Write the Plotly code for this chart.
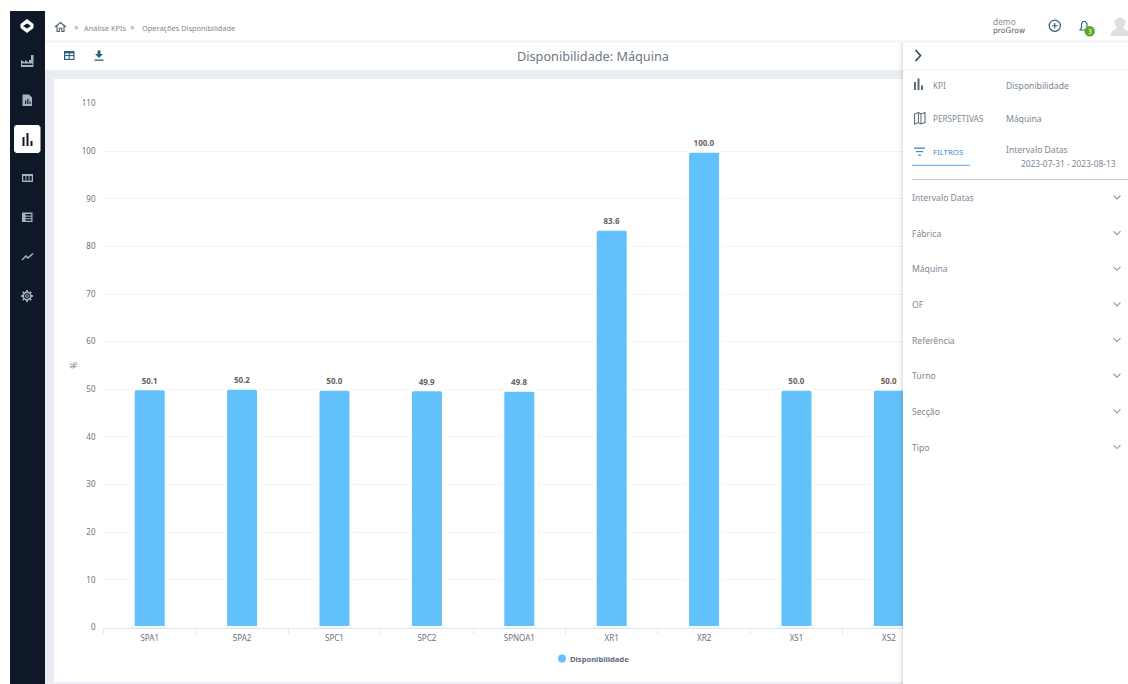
import re
import plotly.graph_objects as go

# ---- data ----
categories = ["SPA1", "SPA2", "SPC1", "SPC2", "SPNOA1", "XR1", "XR2", "XS1", "XS2"]
disponibilidade = [50.1, 50.2, 50.0, 49.9, 49.8, 83.6, 100.0, 50.0, 50.0]
y_ticks = [0, 10, 20, 30, 40, 50, 60, 70, 80, 90, 100, 110]
filter_names = ["Intervalo Datas", "Fábrica", "Máquina", "OF", "Referência", "Turno", "Secção", "Tipo"]
series_name = "Disponibilidade"
chart_title = "Disponibilidade: Máquina"

W, H = 1128, 684
FONT = "Noto Sans"
BAR = "#62c0fb"
NAVY = "#0f1826"
ICON = "#2f5d7c"
SIDE = "#a7b4c0"
TXT = "#7b8794"
BLUE = "#3a87d0"


def px(x):
    return x / W


def py(y):
    return 1 - y / H


shapes = []
annotations = []


def rect(x0, y0, x1, y1, fill, opacity=1.0):
    shapes.append(dict(type="rect", xref="paper", yref="paper", x0=px(x0), x1=px(x1),
                       y0=py(y0), y1=py(y1), fillcolor=fill, opacity=opacity,
                       line=dict(width=0), layer="above"))


def circle(cx, cy, r, fill=None, line=None, lw=1.0):
    shapes.append(dict(type="circle", xref="paper", yref="paper", x0=px(cx - r), x1=px(cx + r),
                       y0=py(cy - r), y1=py(cy + r), fillcolor=fill or "rgba(0,0,0,0)",
                       line=dict(width=lw if line else 0, color=line or "rgba(0,0,0,0)"),
                       layer="above"))


def path(d, fill=None, line=None, lw=1.0):
    """d is a path in screen pixels, converted to paper coordinates."""
    toks = re.findall(r"[MLZ]|-?\d+\.?\d*", d)
    out, i = [], 0
    while i < len(toks):
        if toks[i] in "MLZ":
            out.append(toks[i])
            i += 1
        else:
            out.append(f"{px(float(toks[i])):.6f},{py(float(toks[i + 1])):.6f}")
            i += 2
    shapes.append(dict(type="path", xref="paper", yref="paper", path=" ".join(out),
                       fillcolor=fill or "rgba(0,0,0,0)",
                       line=dict(width=lw if line else 0, color=line or "rgba(0,0,0,0)"),
                       layer="above"))


def text(x, y, s, size=9, color=TXT, anchor="left", bold=False, family=FONT):
    annotations.append(dict(x=px(x), y=py(y), xref="paper", yref="paper", text=f"<b>{s}</b>" if bold else s,
                            showarrow=False, xanchor=anchor, yanchor="middle", borderpad=0, borderwidth=0,
                            font=dict(family=family, size=size, color=color)))


# ---- page shell (drawn over the plot where it overlaps) ----
rect(45, 70, 903, 79, "#e9ecf1")
rect(45, 70, 54, 684, "#e9ecf1")
rect(45, 682, 903, 684, "#eceef3")
rect(45, 40.5, 1128, 42.5, "#f2f3f4")

# sidebar
rect(10, 11, 45, 684, NAVY)
path("M27 19 L33.5 24 L33.5 28 L27 33 L20.5 28 L20.5 24 Z", fill="#ffffff")
path("M27 23.5 L31 26 L27 28.5 L23 26 Z", fill=NAVY)
# factory
path("M21 67 L21 60 L25 62.5 L25 60 L29 62.5 L29 60 L31 60 L31 55 L33.5 55 L33.5 67 Z", fill=SIDE)
rect(22, 63.5, 32.5, 65, NAVY)
# report
path("M22.5 94.5 L29 94.5 L32 97.5 L32 106 L22.5 106 Z", fill=SIDE)
rect(25, 100.5, 26.2, 104, NAVY)
rect(27.2, 99, 28.4, 104, NAVY)
rect(29.4, 101.5, 30.6, 104, NAVY)
# active
path("M16 125 L38.5 125 L40.5 127 L40.5 151 L38.5 153 L16 153 L14 151 L14 127 Z", fill="#ffffff")
rect(22.5, 137, 24.5, 146, NAVY)
rect(26.5, 133, 28.5, 146, NAVY)
rect(30.5, 141, 32.5, 146, NAVY)
# columns
rect(22, 174, 33, 182, SIDE)
rect(23.3, 176, 25.4, 180.7, NAVY)
rect(26.4, 176, 28.6, 180.7, NAVY)
rect(29.6, 176, 31.7, 180.7, NAVY)
# list
rect(22, 212.5, 32.5, 222, SIDE)
rect(25.5, 214, 31.3, 215.6, NAVY)
rect(25.5, 216.7, 31.3, 218.2, NAVY)
rect(25.5, 219.2, 31.3, 220.8, NAVY)
# trend
path("M22 260 L26 256 L28 258 L33 253.5", line=SIDE, lw=1.5)
# gear
circle(27, 296, 3.8, line=SIDE, lw=1.6)
circle(27, 296, 1.5, line=SIDE, lw=1)
for a, b, c, d in [(27, 290, 27, 292), (27, 300, 27, 302), (21, 296, 23, 296), (31, 296, 33, 296),
                   (22.8, 291.8, 24.2, 293.2), (29.8, 298.8, 31.2, 300.2),
                   (22.8, 300.2, 24.2, 298.8), (29.8, 293.2, 31.2, 291.8)]:
    path(f"M{a} {b} L{c} {d}", line=SIDE, lw=1.8)

# breadcrumbs
path("M55 27 L60.5 22.5 L66 27 M57 26 L57 31.5 L59.3 31.5 L59.3 28.2 L61.8 28.2 L61.8 31.5 L64 31.5 L64 26",
     line="#4d5c69", lw=1.1)
text(73.5, 26.5, "»", 8.5, "#8d969e")
text(84, 27.5, "Análise KPIs", 7.4, "#83888d")
text(130, 26.5, "»", 8.5, "#8d969e")
text(142, 27.5, "Operações Disponibilidade", 7.4, "#83888d")

# toolbar
text(593, 56, chart_title, 12.7, "#6b7885", anchor="center")
rect(64, 51, 74.5, 60, ICON)
rect(65.2, 53.4, 68.7, 55, "#ffffff")
rect(69.8, 53.4, 73.3, 55, "#ffffff")
rect(65.2, 56.1, 68.7, 58.9, "#ffffff")
rect(69.8, 56.1, 73.3, 58.9, "#ffffff")
path("M97.5 50.5 L100.5 50.5 L100.5 54 L103 54 L99 58 L95 54 L97.5 54 Z", fill=ICON)
rect(94.5, 59.5, 103.5, 60.8, ICON)

# panel with soft shadow
for i, op in enumerate([0.012, 0.02, 0.03, 0.045, 0.06]):
    rect(898 + i, 43, 903, 684, "#55606a", op)
rect(903, 43, 1128, 684, "#ffffff")
rect(903, 69.5, 1128, 70.5, "#eef0f2")

# top-right
text(993, 21.5, "demo", 8.4, "#8d8d8d")
text(993, 30.5, "proGrow", 7.6, "#5d6468", family="DejaVu Sans")
circle(1054.8, 25.8, 5.6, line=ICON, lw=1.2)
path("M1052 25.8 L1057.6 25.8 M1054.8 23 L1054.8 28.6", line=ICON, lw=1.1)
path("M1080 30 L1081.5 27.5 L1081.5 24 L1083 21.5 L1085.5 21.5 L1087 24 L1087 27.5 L1088.5 30 Z",
     line=ICON, lw=1.1)
circle(1089.7, 31.3, 5.2, fill="#5aa81f")
text(1089.7, 31.6, "3", 7, "#ffffff", anchor="center")
circle(1120, 23, 5.5, fill="#e0e0e0")
path("M1110 36 L1112 31 L1117 28 L1123 28 L1128 31 L1128 36 Z", fill="#e0e0e0")

# panel content
path("M915.5 50 L920.5 55.5 L915.5 61", line="#34495a", lw=1.7)
rect(914, 82, 916, 90, "#5b6b78")
rect(917.5, 78.5, 919.5, 90, "#5b6b78")
rect(921, 85.5, 923, 90, "#5b6b78")
path("M914.5 114 L918.5 112.5 L921 114 L925 112.5 L925 122.5 L921 124 L918.5 122.5 L914.5 124 Z",
     line="#5b6b78", lw=1.1)
path("M918.5 112.5 L918.5 122.5 M921 114 L921 124", line="#5b6b78", lw=1)
rect(914, 147.5, 925, 148.8, BLUE)
rect(916, 151, 923, 152.2, BLUE)
rect(918, 154.5, 921, 155.7, BLUE)

text(933, 85.5, "KPI", 8.2)
text(1006, 86, series_name, 8.6)
text(933, 118.5, "PERSPETIVAS", 8.2)
text(1006, 119, "Máquina", 8.6)
text(933, 152, "FILTROS", 7.8, BLUE)
text(1006, 150, "Intervalo Datas", 8.6)
text(1021, 164, "2023-07-31 - 2023-08-13", 8.4)
rect(912, 164.8, 970, 165.8, "#5aa0e6")
rect(912, 179, 1128, 180, "#c9cccf")

for i, name in enumerate(filter_names):
    yy = 198 + i * 35.65
    text(912, yy, name, 8.6)
    path(f"M1113.5 {yy - 2.5} L1117 {yy + 1} L1120.5 {yy - 2.5}", line="#8f98a0", lw=1.1)

# legend entry
circle(562, 658.5, 4, fill=BAR)
text(570, 659, series_name, 7.6, "#5f6b7a", bold=True)

# ---- chart ----
fig = go.Figure(
    go.Bar(
        x=categories, y=disponibilidade, name=series_name,
        marker=dict(color=BAR, line=dict(color="#ffffff", width=3), cornerradius=3),
        texttemplate="%{y:.1f}", textposition="outside", cliponaxis=False,
        textfont=dict(family=FONT, size=8, color="#6b5f5a", weight="bold"),
    )
)
fig.update_layout(
    width=W, height=H, margin=dict(l=0, r=0, t=0, b=0),
    paper_bgcolor="#ffffff", plot_bgcolor="#ffffff",
    showlegend=False, bargap=0.643,
    font=dict(family=FONT, size=8, color="#6e7079"),
    shapes=shapes, annotations=annotations,
    xaxis=dict(domain=[103.5 / W, 935.1 / W], type="category", range=[-0.5, 8.5],
               tickson="boundaries", ticks="outside", ticklen=5, tickcolor="#e0e6f1",
               showline=True, linecolor="#e0e6f1", linewidth=1, showgrid=False,
               ticklabelstandoff=3,
               tickfont=dict(size=8, color="#6e7079"), automargin=False),
    yaxis=dict(domain=[1 - 627.5 / H, 1 - 103.5 / H], range=[0, 110], tickvals=y_ticks,
               showgrid=True, gridcolor="#f3f4f6", gridwidth=1, zeroline=False,
               showline=False, ticks="", ticklabelstandoff=7,
               tickfont=dict(size=8, color="#6e7079"), automargin=False,
               title=dict(text="%", standoff=2, font=dict(size=8, color="#6e7079"))),
)
fig.write_html("out.html", config=dict(displayModeBar=False),
               post_script="document.body.style.margin='0';")
